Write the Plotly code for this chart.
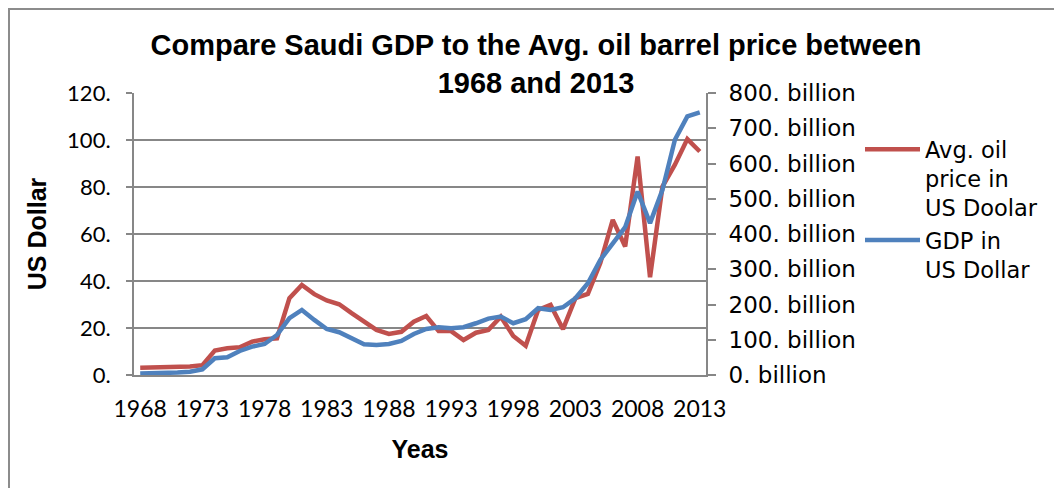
import plotly.graph_objects as go

years = list(range(1968, 2014))

oil_price = [3.1, 3.2, 3.3, 3.5, 3.6, 4.2, 10.4, 11.4, 11.8, 14.2,
             15.2, 15.6, 32.7, 38.3, 34.4, 31.7, 30.1, 26.3, 23.0, 19.2,
             17.5, 18.4, 22.7, 25.1, 18.7, 18.7, 14.9, 18.0, 19.2, 24.8,
             16.6, 12.4, 27.7, 29.8, 19.5, 32.7, 34.5, 47.6, 66.0, 54.7,
             93.0, 41.6, 80.2, 89.5, 100.4, 95.1]

gdp_billion = [4.0, 4.5, 5.5, 7.0, 9.5, 16.2, 47.4, 50.3, 68.2, 80.4,
               88.0, 113.6, 161.0, 184.6, 156.2, 130.6, 121.3, 104.2, 87.2, 85.2,
               88.0, 96.6, 116.4, 130.6, 135.5, 132.6, 135.5, 146.8, 160.0, 165.6,
               146.8, 158.2, 189.4, 184.6, 192.3, 217.8, 260.4, 326.6, 374.0, 419.5,
               520.6, 430.8, 525.4, 667.4, 733.6, 745.0]

x_ticks = [1968, 1973, 1978, 1983, 1988, 1993, 1998, 2003, 2008, 2013]
left_ticks = [0, 20, 40, 60, 80, 100, 120]
left_labels = ["0.", "20.", "40.", "60.", "80.", "100.", "120."]
right_ticks = [0, 100, 200, 300, 400, 500, 600, 700, 800]
right_labels = [f"{v}. billion" for v in right_ticks]

RED = "#C0504D"
BLUE = "#4F81BD"
GRID = "#878787"

fig = go.Figure()
fig.add_trace(go.Scatter(x=years, y=oil_price, mode="lines",
                         name="Avg. oil<br>price in<br>US Doolar",
                         line=dict(color=RED, width=4.5), yaxis="y"))
fig.add_trace(go.Scatter(x=years, y=gdp_billion, mode="lines",
                         name="GDP in<br>US Dollar",
                         line=dict(color=BLUE, width=4.5), yaxis="y2"))

# page body has an 8px margin; figure sized to fill the rest of the window
W, H = 1054, 480
L, R, T, B = 126, 356, 85, 113
pw = W - L - R
ph = H - T - B

fig.update_layout(
    width=W, height=H,
    margin=dict(l=L, r=R, t=T, b=B),
    paper_bgcolor="white", plot_bgcolor="white",
    title=dict(text="Compare Saudi GDP to the Avg. oil barrel price between<br>1968 and 2013",
               font=dict(family="Liberation Sans", size=29, color="black", weight="bold"),
               x=528 / W, xanchor="center", xref="container",
               y=1 - 47 / H, yanchor="top", yref="container"),
    xaxis=dict(range=[1967.5, 2013.5], tickvals=x_ticks,
               tickfont=dict(family="Lato", size=23, color="black"),
               showline=True, linecolor=GRID, linewidth=2,
               ticks="", showgrid=False, zeroline=False,
               ticklabelstandoff=12,
               title=dict(text="Yeas", standoff=20,
                          font=dict(family="Liberation Sans", size=25, color="black", weight="bold"))),
    yaxis=dict(range=[0, 120], tickvals=left_ticks, ticktext=left_labels,
               tickfont=dict(family="Lato", size=22, color="black"),
               showgrid=True, gridcolor=GRID, gridwidth=2,
               showline=True, linecolor=GRID, linewidth=2,
               ticks="outside", ticklen=6, tickwidth=2, tickcolor=GRID,
               ticklabelstandoff=11, zeroline=False,
               title=dict(text="US Dollar", standoff=13,
                          font=dict(family="Liberation Sans", size=25, color="black", weight="bold"))),
    yaxis2=dict(range=[0, 800], tickvals=right_ticks, ticktext=right_labels,
                overlaying="y", side="right",
                tickfont=dict(family="DejaVu Sans", size=23, color="black"),
                showgrid=False, showline=True, linecolor=GRID, linewidth=2,
                ticks="outside", ticklen=8, tickwidth=2, tickcolor=GRID,
                ticklabelstandoff=8, zeroline=False),
    legend=dict(x=(852 - L) / pw, xanchor="left", xref="paper",
                y=1 - (120 - T) / ph, yanchor="top", yref="paper",
                font=dict(family="DejaVu Sans", size=22.5, color="black"),
                valign="top", itemwidth=55, tracegroupgap=0,
                bgcolor="rgba(0,0,0,0)"),
    shapes=[dict(type="rect", xref="paper", yref="paper",
                 x0=(1 - L) / pw, x1=(W + 20 - L) / pw,
                 y0=1 - (H + 20 - T) / ph, y1=1 + (T - 1) / ph,
                 line=dict(color="#8C8C8C", width=2), fillcolor="rgba(0,0,0,0)",
                 layer="below")],
)

fig.write_html("out.html")
